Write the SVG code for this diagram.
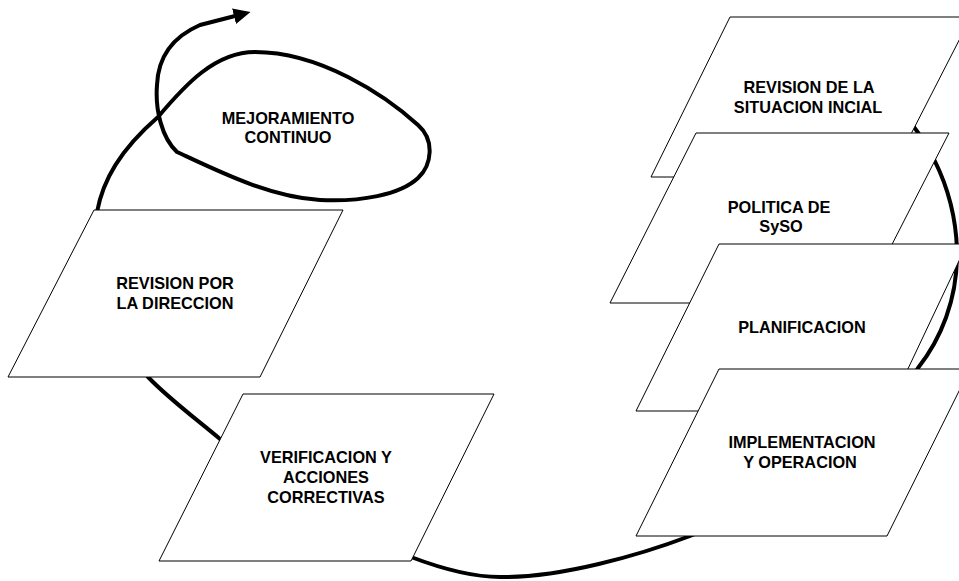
<svg xmlns="http://www.w3.org/2000/svg" width="959" height="581" viewBox="0 0 959 581">
<style>
.box{fill:#fff;stroke:#000;stroke-width:1}
.lbl{font-family:"Liberation Sans",Arial,sans-serif;font-weight:bold;font-size:16.3px;fill:#000;text-anchor:middle}
.flow{fill:none;stroke:#000;stroke-width:4;stroke-linejoin:round}
</style>
<defs>
<marker id="ah" markerUnits="userSpaceOnUse" markerWidth="18" markerHeight="16" refX="1" refY="8" orient="auto">
<path d="M0,0 L17,8 L0,16 z" fill="#000"/>
</marker>
</defs>
<rect width="959" height="581" fill="#fff"/>
<g id="connectors">
<path class="flow" marker-end="url(#ah)" d="M 880 90 C 925 130, 955 185, 957 250 C 958 300, 940 340, 918 368 C 890 420, 780 500, 690 536 C 640 555, 560 578, 500 577 C 470 577, 440 568, 411 557 C 330 525, 260 480, 220 439 C 195 418, 168 398, 148 377 C 115 340, 95 270, 97 212 C 103 180, 120 150, 158 117 C 185 85, 215 52, 255 52 C 320 52, 385 95, 418 125 C 435 140, 432 165, 418 178 C 400 195, 360 202, 320 200 C 270 197, 220 172, 177 152 C 162 138, 155 110, 157 85 C 158 60, 170 38, 200 25 L 235 16"/>
</g>
<g id="mejoramiento">
<text class="lbl" x="288" y="124">MEJORAMIENTO</text>
<text class="lbl" x="288" y="143">CONTINUO</text>
</g>
<g id="situacion-inicial">
<polygon class="box" points="730,17 971,17 889,177 651,177"/>
<text class="lbl" x="809" y="93">REVISION DE LA</text>
<text class="lbl" x="808" y="113">SITUACION INCIAL</text>
</g>
<g id="politica">
<polygon class="box" points="696,133 949,133 862,303 610,303"/>
<text class="lbl" x="779" y="213">POLITICA DE</text>
<text class="lbl" x="781" y="232">SySO</text>
</g>
<g id="planificacion">
<polygon class="box" points="719,244 967,244 888,411 636,411"/>
<text class="lbl" x="802" y="333">PLANIFICACION</text>
</g>
<g id="implementacion">
<polygon class="box" points="719,369 970,369 887,536 636,536"/>
<text class="lbl" x="802" y="448">IMPLEMENTACION</text>
<text class="lbl" x="800" y="468">Y OPERACION</text>
</g>
<g id="revision-direccion">
<polygon class="box" points="94,210 343,210 260,377 8,377"/>
<text class="lbl" x="175" y="289">REVISION POR</text>
<text class="lbl" x="175" y="309">LA DIRECCION</text>
</g>
<g id="verificacion">
<polygon class="box" points="243,394 494,394 411,561 159,561"/>
<text class="lbl" x="326" y="463">VERIFICACION Y</text>
<text class="lbl" x="326" y="483">ACCIONES</text>
<text class="lbl" x="326" y="503">CORRECTIVAS</text>
</g>
</svg>
